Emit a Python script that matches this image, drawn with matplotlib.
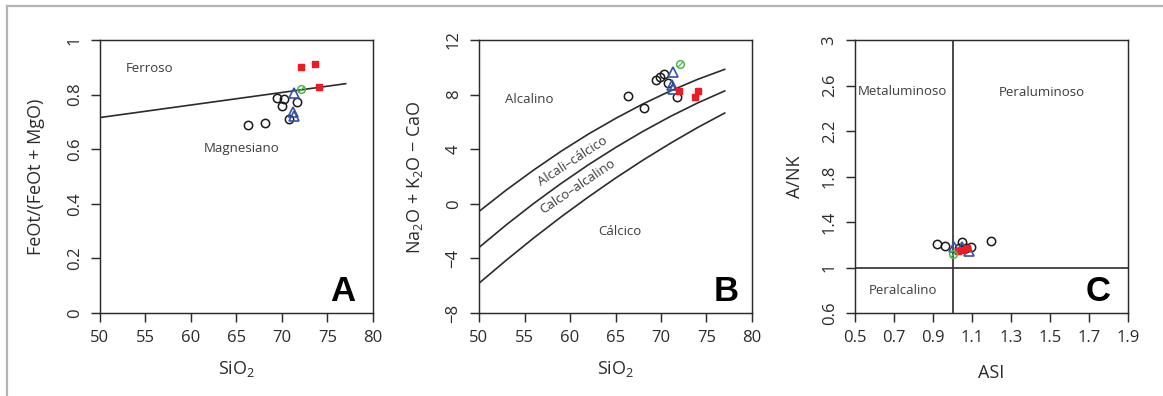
import matplotlib
matplotlib.use("Agg")
import matplotlib.pyplot as plt
from matplotlib.lines import Line2D

plt.rcParams['font.family'] = ['Open Sans', 'DejaVu Sans']
plt.rcParams['mathtext.fontset'] = 'custom'
plt.rcParams['mathtext.rm'] = 'Open Sans'
plt.rcParams['mathtext.it'] = 'Open Sans:italic'

# ---------------- data ----------------
# Panel A: SiO2 vs FeOt/(FeOt+MgO)
a_circ_x = [66.3, 68.1, 69.5, 70.25, 69.95, 71.7, 70.75]
a_circ_y = [0.688, 0.697, 0.789, 0.783, 0.757, 0.774, 0.712]
a_tri_x = [71.3, 71.25, 71.3]
a_tri_y = [0.807, 0.737, 0.723]
a_grn_x = [72.1]
a_grn_y = [0.819]
a_sq_x = [72.05, 73.65, 74.05]
a_sq_y = [0.902, 0.912, 0.827]
a_line_x = [50, 77]
a_line_y = [0.716, 0.840]

# Panel B: SiO2 vs Na2O+K2O-CaO
b_circ_x = [66.4, 68.1, 69.5, 69.85, 70.3, 70.75, 71.75]
b_circ_y = [7.88, 7.04, 9.07, 9.31, 9.49, 8.83, 7.80]
b_tri_x = [71.35, 71.2, 71.3]
b_tri_y = [9.68, 8.70, 8.39]
b_grn_x = [72.1]
b_grn_y = [10.22]
b_sq_x = [72.0, 73.7, 74.05]
b_sq_y = [8.26, 7.85, 8.29]
b_curve_x = [50, 53, 56, 59, 62, 65, 68, 71, 74, 77]
b_curve1_y = [-0.56, 1.01, 2.47, 3.84, 5.10, 6.25, 7.31, 8.26, 9.11, 9.85]
b_curve2_y = [-3.20, -1.54, 0.02, 1.48, 2.85, 4.12, 5.30, 6.39, 7.38, 8.27]
b_curve3_y = [-5.82, -4.13, -2.51, -0.97, 0.49, 1.88, 3.19, 4.42, 5.58, 6.65]

# Panel C: ASI vs A/NK
c_circ_x = [0.92, 0.96, 1.05, 1.095, 1.195, 1.035, 1.07]
c_circ_y = [1.207, 1.192, 1.221, 1.178, 1.236, 1.175, 1.17]
c_tri_x = [1.008, 1.047, 1.086]
c_tri_y = [1.178, 1.178, 1.148]
c_grn_x = [1.0]
c_grn_y = [1.119]
c_sq_x = [1.03, 1.056, 1.073]
c_sq_y = [1.148, 1.154, 1.172]

# tick values / labels
sio2_ticks = [50, 55, 60, 65, 70, 75, 80]
sio2_labels = ['50', '55', '60', '65', '70', '75', '80']
a_yticks = [0, 0.2, 0.4, 0.6, 0.8, 1.0]
a_ylabels = ['0', '0.2', '0.4', '0.6', '0.8', '1']
b_yticks = [-8, -4, 0, 4, 8, 12]
b_ylabels = ['\u22128', '\u22124', '0', '4', '8', '12']
c_xticks = [0.5, 0.7, 0.9, 1.1, 1.3, 1.5, 1.7, 1.9]
c_xlabels = ['0.5', '0.7', '0.9', '1.1', '1.3', '1.5', '1.7', '1.9']
c_yticks = [0.6, 1.0, 1.4, 1.8, 2.2, 2.6, 3.0]
c_ylabels = ['0.6', '1', '1.4', '1.8', '2.2', '2.6', '3']

# ---------------- styling ----------------
W, H = 1163, 396
fig = plt.figure(figsize=(W / 100, H / 100), dpi=100)
fig.patch.set_facecolor('white')

AX = '#2b2b2b'
TXT = '#3c3c3c'
RED = '#ed1c24'
BLUE = '#3452a8'
GREEN = '#4cb848'

# figure border (top and left)
fig.add_artist(Line2D([6.5 / W, 1.0], [1 - 5.5 / H, 1 - 5.5 / H], color='#b4b4b4', lw=1.6))
fig.add_artist(Line2D([6.5 / W, 6.5 / W], [0, 1 - 5.5 / H], color='#b4b4b4', lw=1.6))

lefts = [100, 479, 855]
axes = []
for l in lefts:
    ax = fig.add_axes([l / W, (H - 313) / H, 273 / W, 273 / H])
    for s in ax.spines.values():
        s.set_color(AX)
        s.set_linewidth(1.05)
    ax.tick_params(direction='out', length=6.5, width=1.05, color=AX,
                   labelsize=12, labelcolor=AX, pad=6)
    axes.append(ax)

slash = [(-1, -1), (1, 1)]


def scatter_sets(ax, cx, cy, tx, ty, gx, gy, sx, sy):
    ax.plot(cx, cy, 'o', ms=6, mfc='none', mec='#1a1a1a', mew=1.1, ls='none', zorder=3)
    ax.plot(tx, ty, '^', ms=7.5, mfc='none', mec=BLUE, mew=1.2, ls='none', zorder=4)
    ax.plot(sx, sy, 's', ms=5, mfc=RED, mec=RED, ls='none', zorder=5)
    ax.plot(gx, gy, 'o', ms=5.5, mfc='none', mec=GREEN, mew=1.1, ls='none', zorder=6)
    ax.plot(gx, gy, marker=slash, ms=4, mfc='none', mec=GREEN, mew=0.9, ls='none', zorder=6)


def set_yticks_rot(ax, ticks, labels):
    ax.set_yticks(ticks)
    ax.set_yticklabels(labels, rotation=90, va='center')


LBL = 13

# ---------- Panel A ----------
ax = axes[0]
ax.plot(a_line_x, a_line_y, color=AX, lw=1.2, zorder=2)
scatter_sets(ax, a_circ_x, a_circ_y, a_tri_x, a_tri_y, a_grn_x, a_grn_y, a_sq_x, a_sq_y)
ax.set_xlim(50, 80)
ax.set_ylim(0, 1)
ax.set_xticks(sio2_ticks)
ax.set_xticklabels(sio2_labels)
set_yticks_rot(ax, a_yticks, a_ylabels)
ax.text(55.4, 0.896, 'Ferroso', color=TXT, fontsize=9.5, ha='center', va='center')
ax.text(65.6, 0.603, 'Magnesiano', color=TXT, fontsize=9.5, ha='center', va='center')
ax.text(0.89, 0.08, 'A', transform=ax.transAxes, fontsize=25, fontweight='bold',
        family='Liberation Sans', ha='center', va='center', color='black')
ax.text(0.5, -0.205, r'SiO$_{\mathregular{2}}$', transform=ax.transAxes, fontsize=LBL,
        color=AX, ha='center', va='center')
fig.text(36 / W, 1 - 177 / H, 'FeOt/(FeOt + MgO)', rotation=90, fontsize=LBL,
         color=AX, ha='center', va='center')

# ---------- Panel B ----------
ax = axes[1]
for cy in (b_curve1_y, b_curve2_y, b_curve3_y):
    ax.plot(b_curve_x, cy, color=AX, lw=1.2, zorder=2)
scatter_sets(ax, b_circ_x, b_circ_y, b_tri_x, b_tri_y, b_grn_x, b_grn_y, b_sq_x, b_sq_y)
ax.set_xlim(50, 80)
ax.set_ylim(-8, 12)
ax.set_xticks(sio2_ticks)
ax.set_xticklabels(sio2_labels)
set_yticks_rot(ax, b_yticks, b_ylabels)
ax.text(55.5, 7.65, 'Alcalino', color=TXT, fontsize=9.5, ha='center', va='center')
ax.text(65.5, -2.04, 'Cálcico', color=TXT, fontsize=9.5, ha='center', va='center')
ax.text(60.25, 3.1, 'Alcali\u2013cálcico', color=TXT, fontsize=9.5, ha='center',
        va='center', rotation=33, rotation_mode='anchor')
ax.text(60.9, 1.25, 'Calco\u2013alcalino', color=TXT, fontsize=9.5, ha='center',
        va='center', rotation=34, rotation_mode='anchor')
ax.text(0.905, 0.08, 'B', transform=ax.transAxes, fontsize=25, fontweight='bold',
        family='Liberation Sans', ha='center', va='center', color='black')
ax.text(0.5, -0.205, r'SiO$_{\mathregular{2}}$', transform=ax.transAxes, fontsize=LBL,
        color=AX, ha='center', va='center')
fig.text(415 / W, 1 - 177 / H,
         'Na$_{\\mathregular{2}}$O + K$_{\\mathregular{2}}$O \u2212 CaO',
         rotation=90, fontsize=LBL, color=AX, ha='center', va='center')

# ---------- Panel C ----------
ax = axes[2]
ax.axvline(1.0, color=AX, lw=1.2, zorder=2)
ax.axhline(1.0, color=AX, lw=1.2, zorder=2)
scatter_sets(ax, c_circ_x, c_circ_y, c_tri_x, c_tri_y, c_grn_x, c_grn_y, c_sq_x, c_sq_y)
ax.set_xlim(0.5, 1.9)
ax.set_ylim(0.6, 3.0)
ax.set_xticks(c_xticks)
ax.set_xticklabels(c_xlabels)
set_yticks_rot(ax, c_yticks, c_ylabels)
ax.text(0.743, 2.545, 'Metaluminoso', color=TXT, fontsize=9.5, ha='center', va='center')
ax.text(1.457, 2.54, 'Peraluminoso', color=TXT, fontsize=9.5, ha='center', va='center')
ax.text(0.748, 0.802, 'Peralcalino', color=TXT, fontsize=9.5, ha='center', va='center')
ax.text(0.89, 0.08, 'C', transform=ax.transAxes, fontsize=25, fontweight='bold',
        family='Liberation Sans', ha='center', va='center', color='black')
ax.text(0.5, -0.219, 'ASI', transform=ax.transAxes, fontsize=LBL,
        color=AX, ha='center', va='center')
fig.text(795 / W, 1 - 177 / H, 'A/NK', rotation=90, fontsize=LBL,
         color=AX, ha='center', va='center')

fig.savefig('out.png', dpi=100, facecolor='white')
